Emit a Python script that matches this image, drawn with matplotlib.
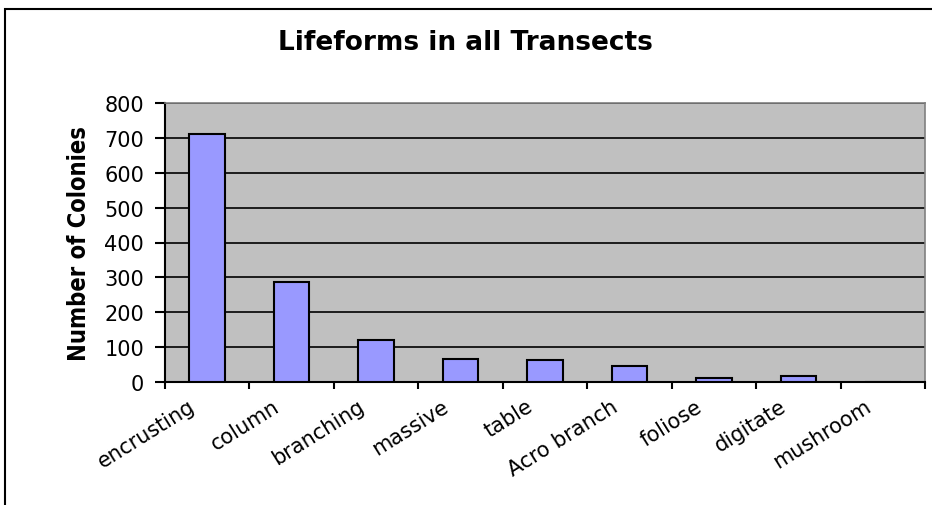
from matplotlib import pyplot as plt
from matplotlib.patches import Rectangle
from matplotlib.transforms import ScaledTranslation
import numpy as np

categories = ['encrusting', 'column', 'branching', 'massive', 'table',
              'Acro branch', 'foliose', 'digitate', 'mushroom']
colonies = [710, 288, 121, 67, 63, 47, 12, 17, 0]
yticks = [0, 100, 200, 300, 400, 500, 600, 700, 800]

plt.rcParams['font.family'] = ['DejaVu Sans']

fig = plt.figure(figsize=(9.32, 5.06), dpi=100)
# outer chart frame (cropped at right/bottom like the original)
fig.patches.append(Rectangle((5 / 932, -0.1), 1.2, (506 - 10) / 506 + 0.1,
                             transform=fig.transFigure, fill=False,
                             edgecolor='black', linewidth=1.5))

ax = fig.add_axes([165 / 932, 123 / 506, 760 / 932, 279 / 506])
ax.set_facecolor('#c0c0c0')

x = np.arange(len(categories))
ax.bar(x, colonies, width=0.42, color='#9999ff', edgecolor='black',
       linewidth=1.5, zorder=3)

ax.set_xlim(-0.5, len(categories) - 0.5)
ax.set_ylim(0, 800)
ax.set_yticks(yticks)
ax.set_yticklabels([str(v) for v in yticks], fontsize=15)
ax.yaxis.grid(True, color='black', linewidth=1.2, zorder=1)
ax.set_axisbelow(True)

ax.set_xticks(x)
ax.set_xticklabels(categories, rotation=32, ha='right', va='center',
                   rotation_mode='anchor', fontsize=15)
ax.tick_params(axis='x', which='major', length=0, pad=16)
shift = ScaledTranslation(-10 / 72, 0, fig.dpi_scale_trans)
for lab in ax.get_xticklabels():
    lab.set_transform(lab.get_transform() + shift)
ax.set_xticks(np.arange(len(categories) + 1) - 0.5, minor=True)
ax.tick_params(axis='x', which='minor', length=5, width=1.5, direction='out')
ax.tick_params(axis='y', length=7, width=1.5, direction='out', pad=8)

for side in ['left', 'bottom']:
    ax.spines[side].set_linewidth(1.5)
    ax.spines[side].set_color('black')
for side in ['top', 'right']:
    ax.spines[side].set_color('#808080')
    ax.spines[side].set_linewidth(1.2)

ax.set_ylabel('Number of Colonies', fontsize=17, fontweight='bold',
              fontstretch='condensed')
ax.yaxis.set_label_coords(-0.097, 0.5)
fig.text(465 / 932, 1 - 43 / 506, 'Lifeforms in all Transects', ha='center',
         va='center', fontsize=19, fontweight='bold')

fig.savefig('out.png', dpi=100)
